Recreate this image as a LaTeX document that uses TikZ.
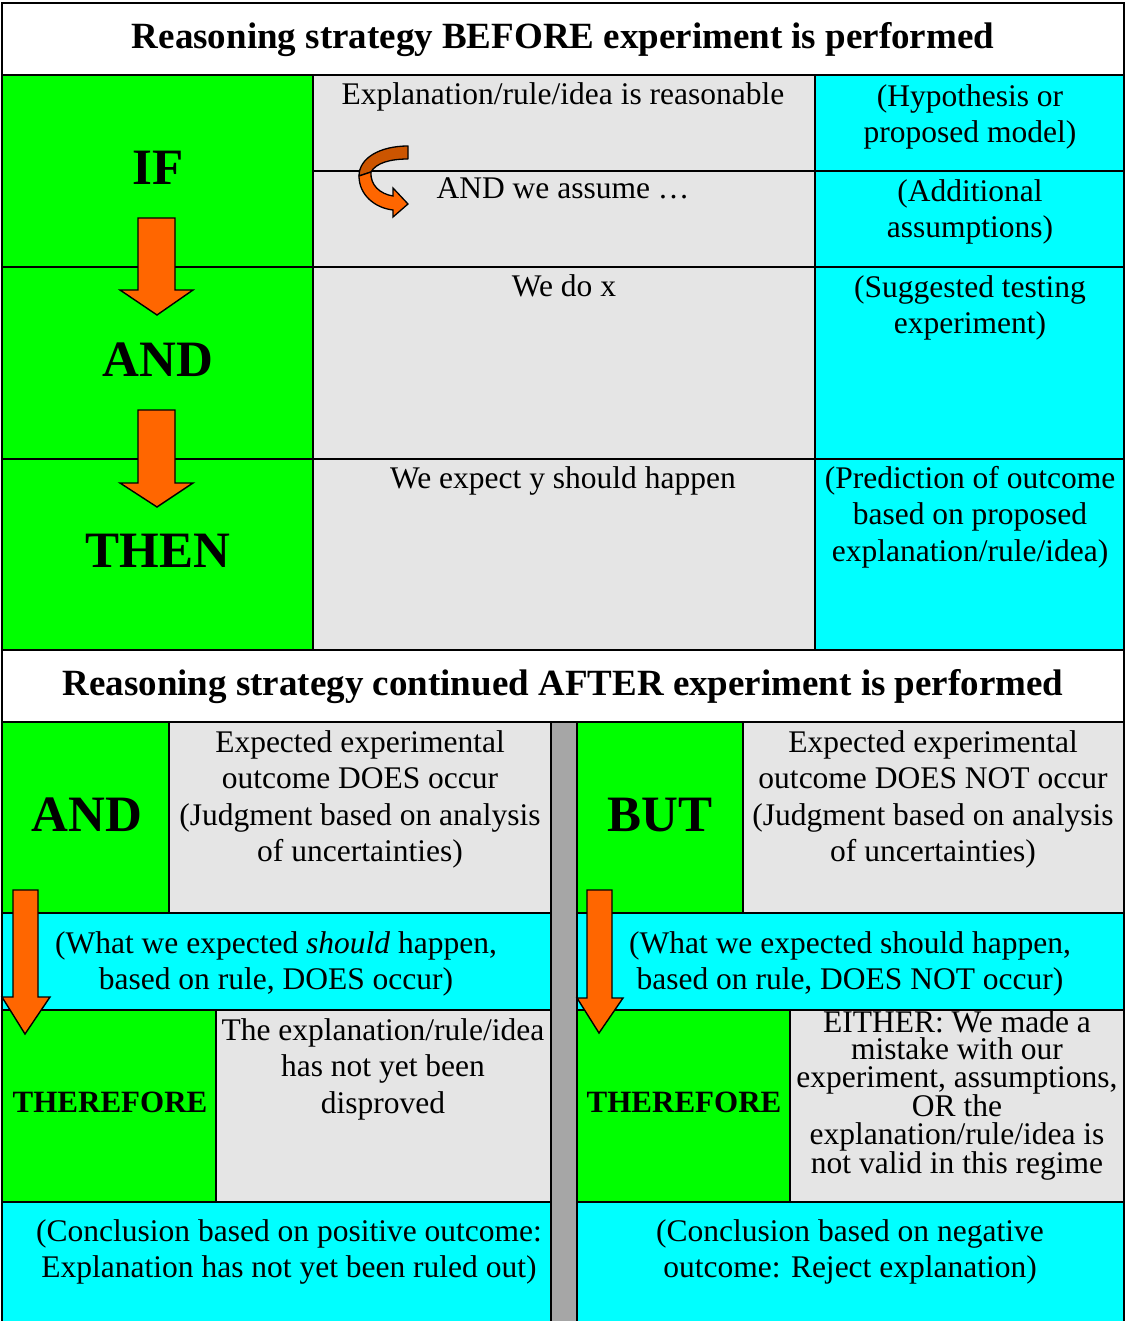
\documentclass[tikz,border=0pt]{standalone}
\usepackage{fontspec}
\setmainfont{Liberation Serif}
\definecolor{cgreen}{RGB}{0,255,0}
\definecolor{ccyan}{RGB}{0,255,255}
\definecolor{cgray}{RGB}{229,229,229}
\definecolor{cdiv}{RGB}{166,166,166}
\definecolor{corange}{RGB}{255,102,0}
\definecolor{cdark}{RGB}{204,85,0}
\tikzset{
  cell/.style={draw=black, line width=1.6pt},
  body/.style={font=\fontsize{31.5}{36.5}\selectfont, align=center, inner sep=0pt, anchor=north},
  tight/.style={font=\fontsize{31.5}{27.6}\selectfont, align=center, inner sep=0pt, anchor=north},
  ttl/.style={font=\bfseries\fontsize{37}{40}\selectfont, inner sep=0pt},
  big/.style={font=\bfseries\fontsize{51}{55}\selectfont, inner sep=0pt},
  therefore/.style={font=\bfseries\fontsize{31}{35}\selectfont, inner sep=0pt},
  blockarrow/.style={fill=corange, draw=black, line width=1.4pt, line join=miter},
}
\begin{document}
\begin{tikzpicture}[x=1pt,y=-1pt]
\useasboundingbox (0,0) rectangle (1126,1321);
\fill[white] (0,0) rectangle (1126,1321);
% ---------- top half ----------
\draw[cell, fill=white] (2,3) rectangle (1124,75);
\draw[cell, fill=cgreen] (2,75) rectangle (313,267);
\draw[cell, fill=cgreen] (2,267) rectangle (313,459);
\draw[cell, fill=cgreen] (2,459) rectangle (313,650);
\draw[cell, fill=cgray] (313,75) rectangle (815,171);
\draw[cell, fill=cgray] (313,171) rectangle (815,267);
\draw[cell, fill=cgray] (313,267) rectangle (815,459);
\draw[cell, fill=cgray] (313,459) rectangle (815,650);
\draw[cell, fill=ccyan] (815,75) rectangle (1124,171);
\draw[cell, fill=ccyan] (815,171) rectangle (1124,267);
\draw[cell, fill=ccyan] (815,267) rectangle (1124,459);
\draw[cell, fill=ccyan] (815,459) rectangle (1124,650);
% ---------- bottom half ----------
\draw[cell, fill=white] (2,650) rectangle (1124,722);
% left
\draw[cell, fill=cgreen] (2,722) rectangle (169,913);
\draw[cell, fill=cgray] (169,722) rectangle (551,913);
\draw[cell, fill=ccyan] (2,913) rectangle (551,1010);
\draw[cell, fill=cgreen] (2,1010) rectangle (216,1202);
\draw[cell, fill=cgray] (216,1010) rectangle (551,1202);
\draw[cell, fill=ccyan] (2,1202) rectangle (551,1330);
% divider
\draw[cell, fill=cdiv] (551,722) rectangle (577,1330);
% right
\draw[cell, fill=cgreen] (577,722) rectangle (743,913);
\draw[cell, fill=cgray] (743,722) rectangle (1124,913);
\draw[cell, fill=ccyan] (577,913) rectangle (1124,1010);
\draw[cell, fill=cgreen] (577,1010) rectangle (790,1202);
\draw[cell, fill=cgray] (790,1010) rectangle (1124,1202);
\draw[cell, fill=ccyan] (577,1202) rectangle (1124,1330);
% ---------- titles ----------
\node[ttl] (title1) at (563,40) {Reasoning strategy BEFORE experiment is performed};
\node[ttl] (title2) at (563,687) {Reasoning strategy continued AFTER experiment is performed};
% ---------- top texts ----------
\node[big] (if) at (158,168) {IF};
\node[big] (and1) at (158,360) {AND};
\node[big] (then) at (158,551) {THEN};
\node[body] (expl) at (563,82) {Explanation/rule/idea is reasonable};
\node[body] (hyp) at (970,84) {(Hypothesis or\\proposed model)};
\node[body] (assume) at (563,178) {AND we assume \dots};
\node[body] (addl) at (970,179) {(Additional\\assumptions)};
\node[body] (dox) at (564,274) {We do x};
\node[body] (sugg) at (970,275) {(Suggested testing\\experiment)};
\node[body] (expect) at (563,466) {We expect y should happen};
\node[body] (pred) at (970,466) {(Prediction of outcome\\based on proposed\\explanation/rule/idea)};
% ---------- bottom texts ----------
\node[big] (and2) at (87,815) {AND};
\node[big] (but) at (660,815) {BUT};
\node[body] (does) at (360,730) {Expected experimental\\outcome DOES occur\\(Judgment based on analysis\\of uncertainties)};
\node[body] (doesnot) at (933,730) {Expected experimental\\outcome DOES NOT occur\\(Judgment based on analysis\\of uncertainties)};
\node[body] (whatl) at (276,931) {(What we expected \textit{should} happen,\\based on rule, DOES occur)};
\node[body] (whatr) at (850,931) {(What we expected should happen,\\based on rule, DOES NOT occur)};
\node[therefore] (therl) at (110,1102) {THEREFORE};
\node[therefore] (therr) at (684,1102) {THEREFORE};
\node[body] (notdis) at (383,1018) {The explanation/rule/idea\\has not yet been\\disproved};
\node[tight] (either) at (957,1010) {EITHER: We made a\\mistake with our\\experiment, assumptions,\\OR the\\explanation/rule/idea is\\not valid in this regime};
\node[body] (concl) at (289,1219) {(Conclusion based on positive outcome:\\Explanation has not yet been ruled out)};
\node[body] (concr) at (850,1219) {(Conclusion based on negative\\outcome: Reject explanation)};
% ---------- block arrows ----------
\draw[blockarrow] (138,218) -- (175,218) -- (175,290) -- (193,290) -- (157,315) -- (120,290) -- (138,290) -- cycle;
\draw[blockarrow] (138,410) -- (175,410) -- (175,483) -- (193,483) -- (157,507) -- (120,483) -- (138,483) -- cycle;
\draw[blockarrow] (13,890) -- (38,890) -- (38,997) -- (50,997) -- (25,1034) -- (2,997) -- (13,997) -- cycle;
\draw[blockarrow] (587,890) -- (612,890) -- (612,998) -- (623,998) -- (599,1033) -- (577,998) -- (587,998) -- cycle;
% ---------- curved arrow ----------
\draw[fill=cdark, draw=black, line width=1.3pt, line join=round]
  (408,146) .. controls (380,146) and (359,158) .. (359,176) -- (371,172)
  .. controls (376,163) and (390,159) .. (408,159) -- cycle;
\draw[fill=corange, draw=black, line width=1.3pt, line join=miter]
  (359,176) .. controls (359,195) and (375,208) .. (393,210) -- (393,217) -- (408,204) -- (393,188) -- (393,196)
  .. controls (380,194) and (370,185) .. (371,172) -- cycle;
\end{tikzpicture}
\end{document}
